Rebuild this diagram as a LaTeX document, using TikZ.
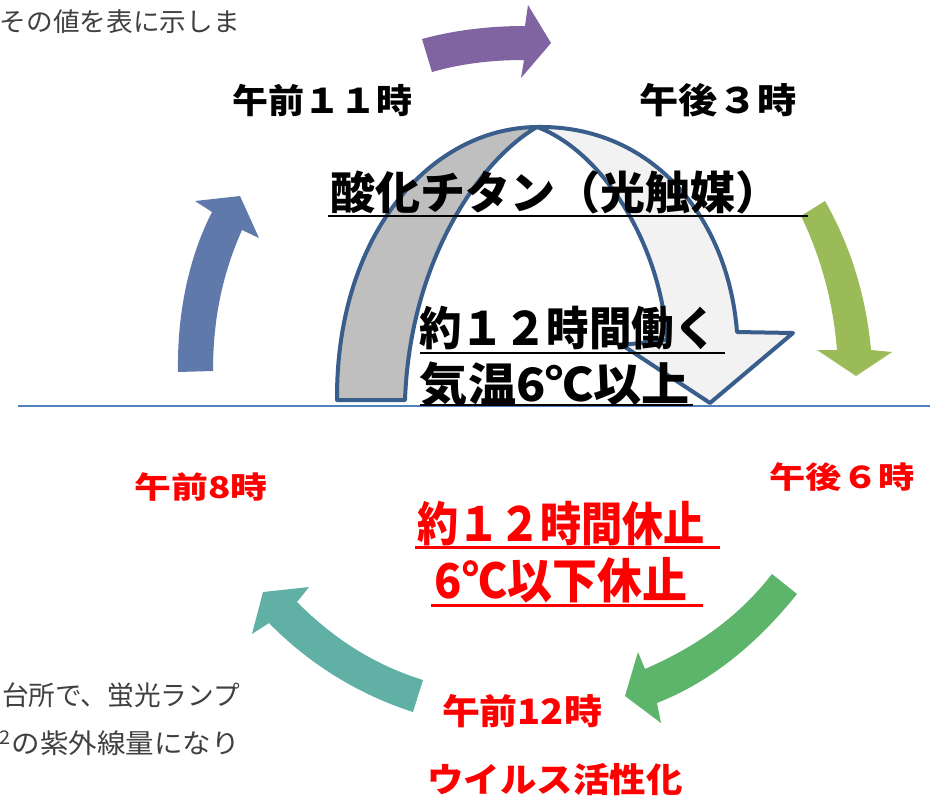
\documentclass[tikz,border=0pt]{standalone}
\usepackage{fontspec}
\setmainfont{Noto Sans CJK JP}
\usepackage{graphicx}
\definecolor{cpurple}{HTML}{8064A2}
\definecolor{colive}{HTML}{9BBB59}
\definecolor{cblue}{HTML}{5F7AAA}
\definecolor{cgreen}{HTML}{5DB56B}
\definecolor{cteal}{HTML}{60B0A6}
\definecolor{cnavy}{HTML}{3A5E8C}
\definecolor{cdark}{HTML}{BFBFBF}
\definecolor{clight}{HTML}{F2F2F2}
\definecolor{cline}{HTML}{4F81BD}
\definecolor{cgraytext}{HTML}{404040}
\definecolor{cred}{HTML}{FF0000}
\newcommand\fitbox[2]{\resizebox{#1}{\height}{#2}}
\newcommand\fsz[1]{\fontsize{#1}{#1}\selectfont}
\begin{document}
\begin{tikzpicture}[x=1pt,y=-1pt,
  txt/.style={inner sep=0pt,outer sep=0pt},
  bk/.style={txt,text=black,font=\bfseries},
  rd/.style={txt,text=cred,font=\bfseries},
  note/.style={txt,text=cgraytext},
  ul/.style={line width=2.5pt},
  ulred/.style={line width=3pt,cred},
  band/.style={draw=cnavy,line width=4pt,line join=round}]
\fill[white] (0,0) rectangle (937,798);
\useasboundingbox (0,0) rectangle (937,798);
\clip (0,0) rectangle (937,798);

% side texts
\node[note,anchor=west] (n1) at (0,22) {\fitbox{240pt}{\fsz{26}その値を表に示しま}};
\node[note,anchor=east] (n2) at (240,695) {\fitbox{238pt}{\fsz{27}台所で、蛍光ランプ}};
\node[note,anchor=east] (n3) at (240,743) {\fitbox{240pt}{\fsz{27}\smash{\textsuperscript{2}}の紫外線量になり}};

% coloured cycle arrows
\fill[cpurple] (422,39) .. controls (455,30) and (490,26) .. (525,26) -- (528,5) -- (551,43) -- (521,78) -- (524,60) .. controls (490,60) and (460,64) .. (432,72) -- cycle;
\fill[colive] (801,216) -- (825,201) .. controls (850,245) and (866,295) .. (871,350) -- (892,352) -- (856,376) -- (817,350) -- (837,350) .. controls (833,300) and (820,255) .. (801,216) -- cycle;
\fill[cblue] (178,372) .. controls (177,310) and (190,255) .. (212,212) -- (195,201) -- (240,196) -- (259,238) -- (242,230) .. controls (222,275) and (213,320) .. (213,371) -- cycle;
\fill[cgreen] (772,574) -- (797,594) .. controls (760,640) and (715,680) .. (657,703) -- (661,723) -- (625,696) -- (638,652) -- (645,669) .. controls (700,645) and (740,615) .. (772,574) -- cycle;
\fill[cteal] (423,680) -- (413,712) .. controls (360,695) and (310,665) .. (269,623) -- (252,634) -- (263,592) -- (309,587) -- (297,602) .. controls (335,640) and (375,665) .. (423,680) -- cycle;

% big U-turn arrow
\filldraw[band,fill=cdark] (337,400) .. controls (336,235) and (430,128) .. (537,127) .. controls (480,160) and (410,260) .. (405,400) -- cycle;
\filldraw[band,fill=clight] (537,127) .. controls (650,125) and (728,215) .. (737,332) -- (793,333) -- (710,403) -- (622,345) -- (667,340) .. controls (660,240) and (600,150) .. (537,127) -- cycle;

% ground line
\coordinate (gl) at (18,406);
\coordinate (gr) at (930,406);
\draw[cline,line width=1.5pt] (gl) -- (gr);

% black labels
\node[bk] (t11) at (322,100) {\fitbox{180pt}{\fsz{34}午前１１時}};
\node[bk] (t15) at (718,100) {\fitbox{157pt}{\fsz{35}午後３時}};
\node[bk] (tio) at (555,192) {\fitbox{450pt}{\fsz{45}酸化チタン（光触媒）}};
\draw[ul] (328,216) -- (808,216);
\node[bk] (w12) at (568,328) {\fitbox{297pt}{\fsz{46}約１２時間働く}};
\draw[ul] (420,353) -- (725,353);
\node[bk] (w6) at (555,384) {\fitbox{270pt}{\fsz{46}気温6℃以上}};
\draw[ul] (420,405) -- (693,405);

% red labels
\node[rd] (t8) at (201,487) {\fitbox{133pt}{\fsz{30}午前8時}};
\node[rd] (t18) at (842,477) {\fitbox{145pt}{\fsz{30}午後６時}};
\node[rd] (r12) at (561,524) {\fitbox{288pt}{\fsz{47}約１２時間休止}};
\draw[ulred] (415,547) -- (720,547);
\node[rd] (r6) at (561,580) {\fitbox{252pt}{\fsz{48}6℃以下休止}};
\draw[ulred] (431,605) -- (703,605);
\node[rd] (t0) at (522,711) {\fitbox{160pt}{\fsz{35}午前12時}};
\node[rd] (vir) at (555,780) {\fitbox{255pt}{\fsz{34}ウイルス活性化}};
\end{tikzpicture}
\end{document}
